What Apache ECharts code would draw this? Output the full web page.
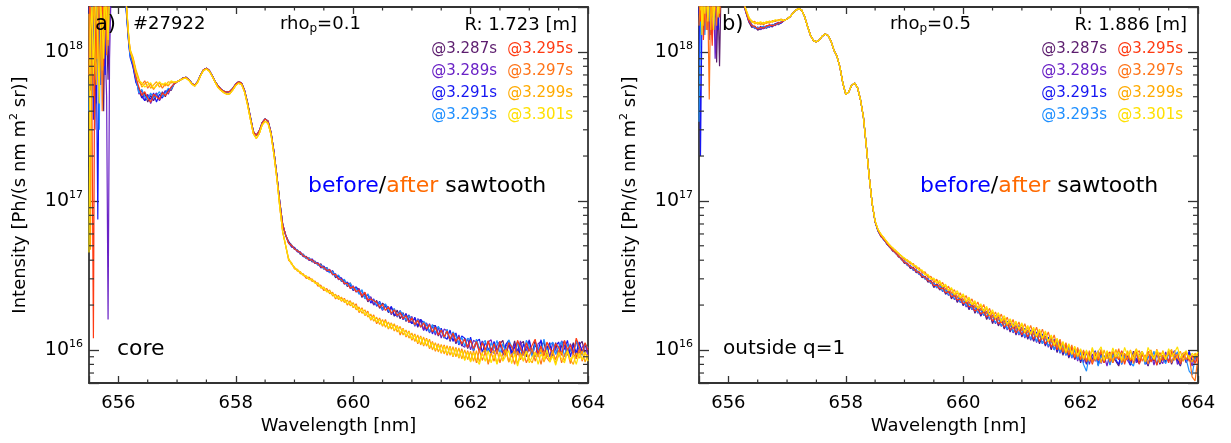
<!DOCTYPE html>
<html><head><meta charset="utf-8">
<script src="https://cdn.jsdelivr.net/npm/echarts@6/dist/echarts.min.js"></script>
<style>html,body{margin:0;padding:0;background:#fff}#c{width:1231px;height:443px}</style>
</head><body><div id="c"></div>
<script>
// ---------- shared sample grid (wavelength, nm) ----------
const wavelength = [
655.5,655.525,655.55,655.575,655.6,655.625,655.65,655.675,655.7,655.725,655.75,655.775,655.8,655.825,655.85,655.875,655.9,655.925,655.95,655.975,656,656.025,656.05,656.075,656.1,656.125,656.15,656.175,656.2,
656.25,656.3,656.35,656.4,656.45,656.5,656.55,656.6,656.65,656.7,656.75,656.8,656.85,656.9,
656.95,657,657.05,657.1,657.15,657.2,657.25,657.3,657.35,657.4,657.45,657.5,657.55,657.6,657.65,657.7,657.75,657.8,657.85,657.9,657.95,658,658.05,658.1,658.15,658.2,658.25,658.3,658.35,658.4,658.45,658.5,658.55,658.6,658.65,658.7,658.75,658.8,658.85,
658.9,658.95,659,659.05,659.1,659.15,659.2,659.25,659.3,659.35,659.4,659.45,659.5,659.55,659.6,659.65,659.7,659.75,659.8,659.85,659.9,659.95,660,660.05,660.1,660.15,660.2,660.25,660.3,660.35,660.4,660.45,660.5,660.55,660.6,660.65,660.7,660.75,660.8,660.85,660.9,660.95,661,661.05,661.1,661.15,661.2,661.25,661.3,661.35,661.4,661.45,661.5,661.55,661.6,661.65,661.7,661.75,661.8,661.85,661.9,661.95,662,662.05,662.1,662.15,662.2,662.25,662.3,662.35,662.4,662.45,662.5,662.55,662.6,662.65,662.7,662.75,662.8,662.85,662.9,662.95,663,663.05,663.1,663.15,663.2,663.25,663.3,663.35,663.4,663.45,663.5,663.55,663.6,663.65,663.7,663.75,663.8,663.85,663.9,663.95,664
];
const UNIT = 1e16; // intensities below are in units of 1e16 Ph/(s nm m^2 sr)
const times = ['@3.287s','@3.289s','@3.291s','@3.293s','@3.295s','@3.297s','@3.299s','@3.301s'];
const colors = ['#5c1d6e','#6a22c6','#1616f2','#1e8fff','#ff3a12','#ff7418','#ffaa00','#ffe000'];

// ---------- panel a) core, rho_p = 0.1 ----------
const aBeforeCore = [60.9,63.1,64.6,66.8,67.6,65.3,61.7,59.6,63.1,70,75.9,77.6,75,69.2,63.1,58.9,56.2,54.3,53.7,54.3,56.9,60.9,63.1,61.7,55,45.7,36.3,29.2,27.5,29.5,33.5,35.5,34.3,28.8,21.4,14.8,9.77,6.92,5.89];
const aAfterCore = [62.4,63.1,64.6,66.1,66.8,64.6,60.9,58.9,62.4,69.2,75,76.7,74.1,68.4,62.4,57.5,55,53.1,51.9,52.5,55.6,59.6,61.7,60.3,53.7,44.2,35.1,28.2,26.3,28.2,32.4,34.3,33.1,27.9,20.4,14.1,9.12,6.17,5.01];

const a287 = [].concat(
[140,55,230,95,30,170,290,75,210,120,40,250,130,65,210,300,360,380,400,420,430,410,380,340,290,230,165,120,98],
[80,64,55,49,53,46,51,47,52,48,54,50,56,55], aBeforeCore,
[5.3,5.08,4.72,4.7,4.38,4.4,4.1,4.15,3.9,3.95,
 3.7,3.78,3.48,3.58,3.3,3.4,3.05,3.16,2.88,2.95,
 2.66,2.82,2.5,2.62,2.55,2.25,2.4,2.1,2.24,2.0,
 2.15,1.9,2.06,1.98,1.78,1.94,1.68,1.85,1.62,1.78,
 1.55,1.72,1.5,1.64,1.42,1.6,1.36,1.5,1.32,1.46,
 1.45,1.24,1.38,1.2,1.36,1.14,1.3,1.1,1.24,1.06,
 1.2,1.02,1.18,0.98,1.16,1.0,1.14,0.96,1.15,0.99,
 1.12,0.94,1.1,1.16,0.92,1.08,0.97,1.15,0.93,1.1,
 1.14,0.9,1.05,0.96,1.16,0.92,1.07,1.13,0.9,1.09,
 0.95,1.12,0.91,1.06,1.15,0.93,0.99,1.12,0.89,1.08,
 1.14,0.94,1.05]);
const a289 = [].concat(
[90,210,60,160,280,45,130,240,85,170,260,110,50,1.6,90,250,330,370,390,410,420,400,370,330,280,220,160,118,95],
[84,68,52,55,47,52,45,50,53,47,51,55,52,58], aBeforeCore,
[5.2,4.95,4.85,4.55,4.55,4.25,4.22,4.0,4.05,3.8,
 3.85,3.55,3.62,3.38,3.48,3.18,3.25,2.96,3.05,2.76,
 2.86,2.58,2.7,2.44,2.58,2.3,2.42,2.14,2.28,2.02,
 2.1,2.05,1.84,1.98,1.95,1.72,1.88,1.66,1.8,1.6,
 1.76,1.52,1.68,1.44,1.62,1.56,1.35,1.52,1.3,1.44,
 1.26,1.42,1.2,1.38,1.34,1.16,1.3,1.12,1.26,1.08,
 1.04,1.2,1.0,1.16,1.12,0.97,1.15,0.96,1.13,1.17,
 0.94,1.08,1.14,0.92,1.06,1.12,0.9,1.1,0.98,1.15,
 0.92,1.04,1.17,0.95,0.9,1.1,1.14,0.94,1.06,0.9,
 1.12,1.0,0.91,1.15,1.07,0.92,1.1,0.96,1.16,0.93,
 1.04,1.1,0.92]);
const a291 = [].concat(
[200,80,150,35,250,100,7.5,180,60,230,120,70,280,150,200,280,340,360,380,400,410,390,360,320,270,210,155,115,92],
[79,62,57,50,47,51,48,53,46,52,49,54,55,57], aBeforeCore,
[5.35,4.9,4.88,4.58,4.52,4.22,4.25,3.98,4.08,3.82,
 3.82,3.6,3.66,3.4,3.32,3.38,3.1,3.12,3.02,2.78,
 2.84,2.72,2.52,2.66,2.38,2.5,2.22,2.36,2.06,2.2,
 1.96,2.12,1.88,2.02,1.8,1.96,1.72,1.7,1.84,1.6,
 1.74,1.58,1.5,1.66,1.44,1.6,1.52,1.34,1.5,1.28,
 1.46,1.26,1.4,1.22,1.18,1.36,1.14,1.3,1.08,1.24,
 1.2,1.04,1.22,1.0,1.14,1.18,0.96,1.12,1.02,0.95,
 1.14,0.98,1.12,0.93,1.09,1.16,0.95,1.04,1.13,0.9,
 1.1,0.97,1.15,0.92,1.08,0.99,1.17,0.94,1.03,1.12,
 0.91,1.06,1.13,0.95,1.02,1.16,0.9,1.08,0.96,1.13,
 0.97,1.08,1.0]);
const a293 = [].concat(
[40,160,260,120,65,210,140,30,190,90,200,300,100,180,240,310,350,370,390,405,415,395,365,325,275,215,158,117,94],
[83,66,53,56,50,48,53,49,51,54,50,53,57,56], aBeforeCore,
[5.2,5.05,4.76,4.68,4.42,4.36,4.12,4.12,3.94,3.92,
 3.7,3.72,3.5,3.56,3.3,3.36,3.12,3.18,2.9,2.98,
 2.7,2.8,2.55,2.6,2.36,2.54,2.2,2.38,2.18,2.16,
 2.0,2.1,1.86,2.04,1.84,1.76,1.9,1.68,1.82,1.74,
 1.58,1.7,1.62,1.46,1.6,1.42,1.56,1.48,1.32,1.48,
 1.3,1.44,1.34,1.2,1.38,1.16,1.32,1.24,1.1,1.22,
 1.06,1.2,1.16,0.99,1.18,1.02,1.1,1.16,0.95,1.12,
 1.02,1.16,0.94,1.1,0.97,1.17,1.05,0.92,1.12,1.0,
 0.93,1.16,1.06,0.9,1.1,1.03,0.94,1.18,0.98,1.07,
 1.13,0.93,1.05,1.14,0.9,1.09,1.0,0.94,1.15,1.02,
 0.92,1.1,1.03]);
const a295 = [].concat(
[260,100,40,1.2,180,90,220,60,130,270,80,190,140,230,260,320,360,380,400,420,430,410,380,340,295,240,175,128,102],
[85,67,58,51,54,49,46,52,50,48,53,51,54,58], aBeforeCore,
[5.22,5.02,4.78,4.62,4.5,4.28,4.2,4.02,4.02,3.84,
 3.8,3.62,3.58,3.42,3.44,3.22,3.2,3.0,2.98,2.8,
 2.8,2.6,2.66,2.46,2.52,2.3,2.44,2.16,2.2,2.14,
 2.08,1.94,2.02,1.84,1.94,1.76,1.86,1.7,1.78,1.62,
 1.7,1.54,1.64,1.48,1.58,1.42,1.52,1.38,1.48,1.32,
 1.42,1.26,1.36,1.22,1.34,1.18,1.3,1.14,1.22,1.1,
 1.18,1.04,1.16,1.02,1.14,0.98,1.12,1.0,1.15,0.97,
 1.1,0.96,1.14,1.0,0.92,1.12,1.05,0.95,1.16,1.03,
 0.94,1.12,0.98,1.08,1.18,0.95,1.06,0.91,1.13,1.02,
 0.96,1.1,1.04,0.92,1.16,1.0,1.08,0.93,1.2,1.05,
 0.94,1.12,1.0]);
const a297 = [].concat(
[70,230,140,50,290,160,90,200,250,40,150,210,95,270,230,300,350,375,395,415,425,405,375,335,288,232,170,124,100],
[90,74,63,60,64,57,61,56,60,62,57,61,59,63], aAfterCore,
[4.0,3.85,3.5,3.48,3.25,3.24,3.02,3.08,2.88,2.9,
 2.68,2.72,2.5,2.58,2.38,2.44,2.2,2.32,2.12,2.22,
 2.0,2.14,1.92,2.04,1.78,1.92,1.7,1.82,1.58,1.72,
 1.5,1.64,1.44,1.6,1.38,1.52,1.34,1.46,1.26,1.4,
 1.22,1.34,1.16,1.28,1.1,1.24,1.06,1.2,1.02,1.14,
 0.98,1.1,0.95,1.08,0.92,1.06,0.9,1.04,0.88,1.02,
 0.86,0.99,0.84,0.98,0.82,1.0,0.85,0.97,0.8,0.96,
 0.84,1.0,0.82,0.95,1.01,0.83,0.94,0.8,0.98,0.86,
 0.96,0.82,0.91,1.02,0.84,0.95,0.8,0.99,0.88,0.83,
 0.97,0.86,1.0,0.82,0.93,0.98,0.81,0.95,0.87,1.01,
 0.84,0.96,0.89]);
const a299 = [].concat(
[180,4.7,120,240,110,60,180,280,130,75,220,160,240,110,280,320,360,380,400,420,430,410,380,345,298,242,178,130,104],
[92,76,66,58,61,63,57,60,63,58,61,59,63,62], aAfterCore,
[4.12,3.75,3.6,3.38,3.36,3.15,3.14,2.96,3.0,2.8,
 2.82,2.6,2.64,2.45,2.52,2.3,2.36,2.18,2.26,2.08,
 2.16,1.98,2.08,1.86,1.94,1.76,1.86,1.66,1.74,1.56,
 1.66,1.48,1.6,1.42,1.54,1.38,1.5,1.32,1.44,1.26,
 1.36,1.2,1.3,1.14,1.26,1.08,1.22,1.06,1.18,1.0,
 1.12,0.97,1.09,0.94,1.07,0.92,1.05,0.9,1.03,0.87,
 1.0,0.86,0.98,0.84,0.99,0.83,0.96,1.0,0.82,0.94,
 0.99,0.81,0.95,0.85,1.0,0.83,0.93,0.98,0.8,0.96,
 0.84,0.99,0.87,0.82,0.97,0.9,1.01,0.83,0.94,0.86,
 0.99,0.81,0.92,0.97,0.84,1.0,0.86,0.8,0.95,0.88,
 0.98,0.83,0.93]);
const a301 = [].concat(
[4.5,140,200,70,160,300,110,45,210,150,90,250,180,120,240,310,355,378,398,418,428,408,378,342,296,240,176,129,103],
[88,72,64,62,58,60,62,57,59,63,60,62,60,64], aAfterCore,
[4.05,3.82,3.52,3.45,3.3,3.18,3.12,2.98,2.94,2.82,
 2.76,2.64,2.6,2.48,2.42,2.4,2.24,2.28,2.14,2.18,
 2.04,2.1,1.94,1.98,1.82,1.88,1.72,1.78,1.6,1.68,
 1.54,1.6,1.46,1.56,1.4,1.5,1.36,1.44,1.3,1.38,
 1.24,1.32,1.18,1.26,1.12,1.22,1.08,1.18,1.04,1.12,
 1.0,1.08,0.96,1.06,0.94,1.04,0.91,1.02,0.89,0.99,
 0.85,0.97,0.83,0.96,0.86,0.8,0.95,0.84,0.99,0.82,
 0.93,0.8,0.97,0.84,0.91,0.99,0.81,0.94,0.78,0.92,
 0.85,0.98,0.82,0.9,0.96,0.8,0.94,0.86,1.0,0.83,
 0.91,0.79,0.96,0.87,0.82,0.98,0.85,0.92,0.8,0.95,
 0.86,0.97,0.84]);

// ---------- panel b) outside q=1, rho_p = 0.5 ----------
const bCore = [162.2,166,171.8,182,190.5,195,190.5,171.8,147.9,128.8,118.9,116.7,120.2,127.4,131.8,128.8,117.5,102.3,93.3,79.4,61.7,51.9,53.7,59.6,61.7,57.5,47.9,36.7,23.4,14.5,9.55];

const b287 = [].concat(
[260,190,310,170,240,150,280,200,130,250,180,300,85,220,80,260,350,400,420,440,450,440,420,400,380,350,320,290,260],
[218,184,158,146,149,140,143,148,144,150,147,155,152,157], bCore,
[7.22,6.25,5.75,5.52,5.12,4.92,4.6,4.5,4.2,4.12,
 3.8,3.82,3.52,3.6,3.3,3.34,3.05,3.12,2.85,2.92,
 2.62,2.78,2.52,2.7,2.36,2.5,2.2,2.36,2.08,2.26,
 1.98,2.14,1.86,2.06,1.76,1.94,1.68,1.86,1.6,1.76,
 1.5,1.68,1.45,1.6,1.38,1.52,1.32,1.48,1.26,1.44,
 1.22,1.38,1.18,1.34,1.14,1.3,1.1,1.26,1.06,1.2,
 1.0,1.16,0.96,1.1,0.92,1.06,0.88,1.04,0.86,0.99,
 0.82,0.96,0.8,0.95,0.84,0.98,0.79,0.93,0.82,0.97,
 0.8,0.94,0.84,0.78,0.96,0.83,0.92,0.79,0.98,0.85,
 0.81,0.95,0.87,0.78,0.93,0.84,0.97,0.8,0.9,0.83,
 0.96,0.8,0.91,0.85,0.78,0.94,0.82,0.97,0.84,0.9,0.81]);
const b289 = [].concat(
[180,280,140,230,300,160,210,120,270,190,240,90,160,270,210,290,340,390,410,430,445,435,415,395,375,345,315,285,255],
[221,188,165,153,143,147,141,145,150,146,153,150,156,159], bCore,
[7.28,6.36,5.86,5.46,5.24,4.86,4.72,4.42,4.32,4.02,
 3.96,3.68,3.7,3.42,3.46,3.2,3.24,2.98,3.02,2.78,
 2.84,2.6,2.74,2.46,2.58,2.32,2.44,2.18,2.3,2.08,
 2.2,1.94,2.1,1.86,1.98,1.76,1.9,1.7,1.82,1.6,
 1.72,1.5,1.66,1.44,1.58,1.36,1.52,1.3,1.46,1.26,
 1.42,1.2,1.36,1.16,1.34,1.12,1.3,1.1,1.24,1.04,
 1.2,1.0,1.14,0.95,1.1,0.92,1.06,0.88,1.02,0.84,
 1.0,0.82,0.97,0.8,0.94,0.84,0.99,0.81,0.92,0.78,
 0.95,0.83,0.9,0.97,0.8,0.93,0.85,0.79,0.96,0.82,
 0.92,0.98,0.8,0.89,0.95,0.79,0.94,0.86,0.81,0.97,
 0.84,0.92,0.99,0.8,0.88,0.95,0.83,0.9,0.78,0.94,0.86]);
const b291 = [].concat(
[300,20,170,250,140,280,190,230,150,310,200,170,260,140,240,300,360,400,420,440,450,440,420,400,380,350,320,290,260],
[216,183,160,149,147,142,148,143,147,152,149,154,157,156], bCore,
[7.26,6.28,5.8,5.5,5.16,4.92,4.64,4.5,4.24,4.1,
 3.84,3.8,3.56,3.56,3.32,3.32,3.1,3.1,2.9,2.9,
 2.68,2.76,2.56,2.64,2.4,2.5,2.26,2.36,2.12,2.24,
 2.02,2.16,1.9,2.04,1.8,1.96,1.7,1.88,1.64,1.8,
 1.54,1.7,1.48,1.62,1.4,1.56,1.34,1.5,1.28,1.46,
 1.24,1.4,1.2,1.36,1.16,1.32,1.12,1.28,1.08,1.22,
 1.02,1.18,0.98,1.14,0.94,1.1,0.9,1.05,0.87,1.02,
 0.84,0.98,0.81,0.96,0.86,0.99,0.8,0.94,0.84,0.97,
 0.81,0.96,0.86,0.8,0.98,0.85,0.93,0.79,0.95,0.87,
 0.82,0.97,0.84,0.79,0.94,0.88,0.98,0.81,0.92,0.85,
 0.97,0.82,0.9,0.86,0.79,0.95,0.84,0.98,0.83,0.92,0.87]);
const b293 = [].concat(
[34,150,260,190,130,280,220,160,300,240,150,210,280,190,250,310,360,400,420,440,450,440,420,400,380,350,320,290,260],
[220,187,163,152,144,146,144,149,146,148,152,153,154,159], bCore,
[7.2,6.3,5.84,5.46,5.2,4.86,4.7,4.44,4.3,4.04,
 3.92,3.7,3.66,3.44,3.42,3.22,3.2,3.0,2.98,2.8,
 2.8,2.62,2.7,2.48,2.54,2.34,2.4,2.2,2.28,2.1,
 2.18,1.98,2.06,1.88,1.94,1.78,1.86,1.7,1.78,1.62,
 1.68,1.52,1.62,1.44,1.54,1.38,1.48,1.32,1.42,1.28,
 1.38,1.22,1.34,1.18,1.3,1.14,1.26,1.1,1.22,1.06,
 1.16,1.0,1.12,0.96,1.08,0.92,1.04,0.89,1.0,0.86,
 0.96,0.8,0.72,0.94,0.82,0.97,0.78,0.92,0.85,0.96,
 0.79,0.93,0.86,0.98,0.8,0.9,0.96,0.82,0.78,0.94,
 0.85,0.97,0.8,0.91,0.84,0.98,0.79,0.93,0.87,0.81,
 0.95,0.83,0.9,0.97,0.8,0.92,0.86,0.72,0.68,0.88,0.94]);
const b295 = [].concat(
[220,160,290,120,200,260,140,300,180,110,240,190,290,230,170,280,340,390,415,435,445,435,415,395,375,345,315,285,255],
[219,185,161,150,148,143,146,144,149,151,150,152,156,158], bCore,
[7.24,6.33,5.8,5.5,5.18,4.9,4.66,4.48,4.25,4.08,
 3.86,3.78,3.6,3.54,3.36,3.3,3.12,3.08,2.92,2.88,
 2.7,2.72,2.58,2.6,2.42,2.46,2.28,2.32,2.16,2.2,
 2.04,2.1,1.94,1.98,1.82,1.88,1.74,1.8,1.66,1.72,
 1.56,1.64,1.5,1.56,1.42,1.5,1.36,1.44,1.3,1.4,
 1.26,1.36,1.22,1.32,1.18,1.28,1.14,1.24,1.1,1.18,
 1.04,1.16,1.0,1.12,0.96,1.08,0.92,1.04,0.88,1.0,
 0.86,0.97,0.83,0.95,0.8,0.94,0.85,0.99,0.82,0.93,
 0.97,0.82,0.92,0.86,0.99,0.8,0.95,0.84,0.9,0.97,
 0.8,0.93,0.87,0.98,0.83,0.91,0.79,0.96,0.85,0.92,
 0.82,0.98,0.86,0.94,0.8,0.9,0.97,0.84,0.92,0.81,0.95]);
const b297 = [].concat(
[150,250,180,300,200,140,210,48,260,170,290,230,150,240,280,320,370,410,430,450,460,450,430,410,390,360,330,300,270],
[224,192,170,158,160,153,157,152,159,156,162,160,164,165], bCore,
[7.28,6.42,5.92,5.66,5.26,5.06,4.78,4.66,4.4,4.28,
 4.02,4.02,3.78,3.8,3.52,3.56,3.28,3.34,3.06,3.12,
 2.84,2.98,2.7,2.84,2.54,2.68,2.4,2.54,2.24,2.42,
 2.14,2.32,2.04,2.2,1.92,2.1,1.84,2.02,1.74,1.9,
 1.64,1.8,1.58,1.74,1.5,1.66,1.44,1.6,1.38,1.54,
 1.34,1.5,1.3,1.46,1.26,1.42,1.22,1.38,1.18,1.32,
 1.12,1.26,1.04,1.18,0.98,1.12,0.95,1.08,0.9,1.04,
 0.86,1.0,0.84,0.99,0.82,0.97,0.87,1.01,0.84,0.96,
 0.83,0.98,0.88,1.02,0.82,0.95,0.86,1.0,0.81,0.94,
 0.99,0.84,0.93,0.8,0.97,0.87,1.01,0.83,0.92,0.86,
 0.98,0.82,0.94,0.88,0.84,0.96,0.86,0.92,0.66,0.62,0.9]);
const b299 = [].concat(
[270,190,230,150,310,210,170,280,140,230,190,320,200,260,180,300,360,400,425,445,455,445,425,405,385,355,325,295,265],
[222,189,166,162,154,158,152,158,155,161,158,163,161,166], bCore,
[7.32,6.38,5.98,5.6,5.34,5.0,4.85,4.6,4.46,4.22,
 4.12,3.92,3.88,3.68,3.64,3.42,3.4,3.2,3.18,2.98,
 3.0,2.8,2.86,2.64,2.7,2.5,2.56,2.34,2.42,2.22,
 2.32,2.1,2.2,2.0,2.08,1.88,1.98,1.8,1.9,1.7,
 1.8,1.62,1.72,1.54,1.64,1.46,1.58,1.42,1.52,1.36,
 1.48,1.3,1.42,1.28,1.38,1.22,1.34,1.18,1.3,1.14,
 1.24,1.06,1.18,1.0,1.12,0.95,1.08,0.93,1.04,0.9,
 1.0,0.86,0.98,0.84,1.02,0.85,0.96,0.82,1.0,0.87,
 0.95,0.83,1.01,0.88,0.96,0.84,0.99,0.86,0.93,1.02,
 0.85,0.97,0.83,0.94,1.0,0.86,0.96,0.82,0.99,0.88,
 0.94,1.01,0.85,0.92,0.98,0.84,0.96,0.89,0.83,0.95,0.9]);
const b301 = [].concat(
[200,300,130,240,180,330,160,250,210,290,140,260,230,170,300,330,370,410,430,450,460,450,430,410,390,360,330,300,270],
[225,193,171,159,157,156,159,155,160,158,160,164,163,164], bCore,
[7.36,6.44,5.96,5.64,5.32,5.04,4.84,4.64,4.46,4.26,
 4.14,3.98,3.9,3.7,3.66,3.44,3.44,3.2,3.22,3.0,
 3.04,2.82,2.92,2.66,2.76,2.5,2.62,2.36,2.5,2.24,
 2.38,2.12,2.26,2.02,2.14,1.9,2.04,1.82,1.96,1.72,
 1.86,1.64,1.78,1.56,1.7,1.5,1.62,1.44,1.56,1.38,
 1.52,1.32,1.46,1.28,1.42,1.24,1.38,1.2,1.34,1.14,
 1.26,1.08,1.2,1.02,1.14,0.98,1.1,0.94,1.06,0.92,
 1.02,0.88,1.0,0.86,1.04,0.87,0.98,1.05,0.85,0.99,
 0.88,1.03,0.9,0.97,0.85,1.04,0.92,0.99,0.86,1.01,
 0.9,0.98,0.85,1.04,0.93,0.87,1.0,0.91,0.97,0.86,
 1.02,0.9,0.96,1.05,0.88,0.94,0.99,0.87,0.95,0.9,0.97]);

const panelA = [a287,a289,a291,a293,a295,a297,a299,a301];
const panelB = [b287,b289,b291,b293,b295,b297,b299,b301];
panelA.concat(panelB).forEach((s,i)=>{ if (s.length !== wavelength.length) console.error('length mismatch', i, s.length); });

// ---------- axis tick positions ----------
const xMinorTicks = [656.5,657,657.5,658.5,659,659.5,660.5,661,661.5,662.5,663,663.5];
const yMinorTicks = [7e15,8e15,9e15,2e16,3e16,4e16,5e16,6e16,7e16,8e16,9e16,2e17,3e17,4e17,5e17,6e17,7e17,8e17,9e17];
const X_MIN = 655.5, X_MAX = 664, Y_MIN = 6e15, Y_MAX = 2e18;

// ---------- styling ----------
const FONT = '"DejaVu Sans", sans-serif';
const AX = '#333';
const chart = echarts.init(document.getElementById('c'), null, {renderer: 'canvas'});

const xLabel = v => (Math.abs(v - Math.round(v)) < 1e-6 && Math.round(v) % 2 === 0) ? String(Math.round(v)) : '';
const yLabel = v => { const e = Math.log10(v), r = Math.round(e); return Math.abs(e - r) < 1e-6 ? '{b|10}{s|' + r + '}' : ''; };
const yRich = { b: {fontSize: 19, fontFamily: FONT, color: '#000', lineHeight: 22}, s: {fontSize: 11, fontFamily: FONT, color: '#000', lineHeight: 8, verticalAlign: 'top'} };
const axLine = {onZero: false, lineStyle: {color: AX, width: 1.8}};

function axes(g) {
  const xs = [
    {gridIndex: g, type: 'value', min: X_MIN, max: X_MAX, splitNumber: 5, position: 'bottom', axisLine: axLine,
     axisTick: {inside: true, length: 7, lineStyle: {color: AX, width: 1.3}},
     axisLabel: {formatter: xLabel, margin: 11, fontSize: 18, fontFamily: FONT, color: '#000'},
     splitLine: {show: false}, name: 'Wavelength [nm]', nameLocation: 'middle', nameGap: 33,
     nameTextStyle: {fontSize: 18, fontFamily: FONT, color: '#000'}},
    {gridIndex: g, type: 'value', min: X_MIN, max: X_MAX, splitNumber: 5, position: 'top', axisLine: axLine,
     axisTick: {inside: true, length: 7, lineStyle: {color: AX, width: 1.3}}, axisLabel: {show: false}, splitLine: {show: false}}
  ];
  const ys = [
    {gridIndex: g, type: 'log', logBase: 10, min: Y_MIN, max: Y_MAX, position: 'left', axisLine: axLine,
     axisTick: {inside: true, length: 10, lineStyle: {color: AX, width: 1.3}},
     axisLabel: {formatter: yLabel, margin: 6, rich: yRich}, splitLine: {show: false},
     name: '{n|Intensity [Ph/(s nm m}{s|2}{n| sr)]}', nameLocation: 'middle', nameGap: 58, nameRotate: 90,
     nameTextStyle: {rich: {n: {fontSize: 18, fontFamily: FONT, color: '#000', lineHeight: 22}, s: {fontSize: 11, fontFamily: FONT, color: '#000', lineHeight: 8, verticalAlign: 'top'}}}},
    {gridIndex: g, type: 'log', logBase: 10, min: Y_MIN, max: Y_MAX, position: 'right', axisLine: axLine,
     axisTick: {inside: true, length: 10, lineStyle: {color: AX, width: 1.3}}, axisLabel: {show: false}, splitLine: {show: false}}
  ];
  return {xs, ys};
}
const A0 = axes(0), A1 = axes(1);

function minorTicks(xi, yi) {
  const data = yMinorTicks.map(v => [X_MIN, v, 0]).concat(xMinorTicks.map(v => [v, Y_MIN, 1]));
  return {
    type: 'custom', xAxisIndex: xi, yAxisIndex: yi, silent: true, clip: false, z: 10, animation: false, data,
    renderItem(params, api) {
      const cs = params.coordSys;
      const p = api.coord([api.value(0), api.value(1)]);
      const st = {stroke: AX, lineWidth: 1.2};
      if (api.value(2) === 0) {
        return {type: 'group', children: [
          {type: 'line', shape: {x1: cs.x, y1: p[1], x2: cs.x + 5, y2: p[1]}, style: st},
          {type: 'line', shape: {x1: cs.x + cs.width - 5, y1: p[1], x2: cs.x + cs.width, y2: p[1]}, style: st}
        ]};
      }
      return {type: 'group', children: [
        {type: 'line', shape: {x1: p[0], y1: cs.y + cs.height, x2: p[0], y2: cs.y + cs.height - 3.5}, style: st},
        {type: 'line', shape: {x1: p[0], y1: cs.y, x2: p[0], y2: cs.y + 3.5}, style: st}
      ]};
    }
  };
}

function lines(panel, xi, yi) {
  return panel.map((vals, k) => ({
    name: times[k], type: 'line', xAxisIndex: xi, yAxisIndex: yi, symbol: 'none', showSymbol: false,
    animation: false, z: 2, lineStyle: {color: colors[k], width: 1.2}, itemStyle: {color: colors[k]},
    data: wavelength.map((w, i) => [w, vals[i] * UNIT])
  }));
}

function T(x, y, text, size, fill, align) {
  return {type: 'text', x, y, z: 100, silent: true, style: {text, fontSize: size, fontFamily: FONT, fill, align: align || 'left', verticalAlign: 'middle'}};
}
function R(x, y, text, rich, align) {
  return {type: 'text', x, y, z: 100, silent: true, style: {text, rich, align: align || 'left', verticalAlign: 'middle'}};
}
const rhoRich = {n: {fontSize: 18, fontFamily: FONT, fill: '#000', lineHeight: 22}, p: {fontSize: 12, fontFamily: FONT, fill: '#000', lineHeight: 12, verticalAlign: 'bottom'}};
const bsRich = {b: {fontSize: 22, fontFamily: FONT, fill: '#0000ff'}, k: {fontSize: 22, fontFamily: FONT, fill: '#000'}, a: {fontSize: 22, fontFamily: FONT, fill: '#ff6a00'}};

function panelTexts(dx, tag, tagX, rho, rLabel, rX, region, regionSize) {
  const g = [];
  g.push(T(tagX, 25, tag, 21, '#000'));
  g.push(R(280 + dx, 24, '{n|rho}{p|p}{n|=' + rho + '}', rhoRich));
  g.push(T(rX, 25, rLabel, 18, '#000', 'right'));
  for (let r = 0; r < 4; r++) {
    g.push(T(497 + dx, 49 + r * 22, times[r], 15, colors[r], 'right'));
    g.push(T(573 + dx, 49 + r * 22, times[r + 4], 15, colors[r + 4], 'right'));
  }
  g.push(R(308 + dx + (dx ? 2 : 0), 186, '{b|before}{k|/}{a|after}{k| sawtooth}', bsRich));
  g.push(T(117 + dx - (dx ? 4 : 0), 349, region, regionSize, '#000'));
  return g;
}
const graphics = panelTexts(0, 'a)', 95, '0.1', 'R: 1.723 [m]', 577, 'core', 22)
  .concat([T(133, 24, '#27922', 18, '#000')])
  .concat(panelTexts(610, 'b)', 722, '0.5', 'R: 1.886 [m]', 1187, 'outside q=1', 20));

chart.setOption({
  backgroundColor: '#fff',
  animation: false,
  grid: [
    {left: 89, top: 7, width: 499, height: 376},
    {left: 699, top: 7, width: 499, height: 376}
  ],
  xAxis: A0.xs.concat(A1.xs),
  yAxis: A0.ys.concat(A1.ys),
  series: lines(panelA, 0, 0).concat(lines(panelB, 2, 2)).concat([minorTicks(0, 0), minorTicks(2, 2)]),
  graphic: graphics
});
</script></body></html>
